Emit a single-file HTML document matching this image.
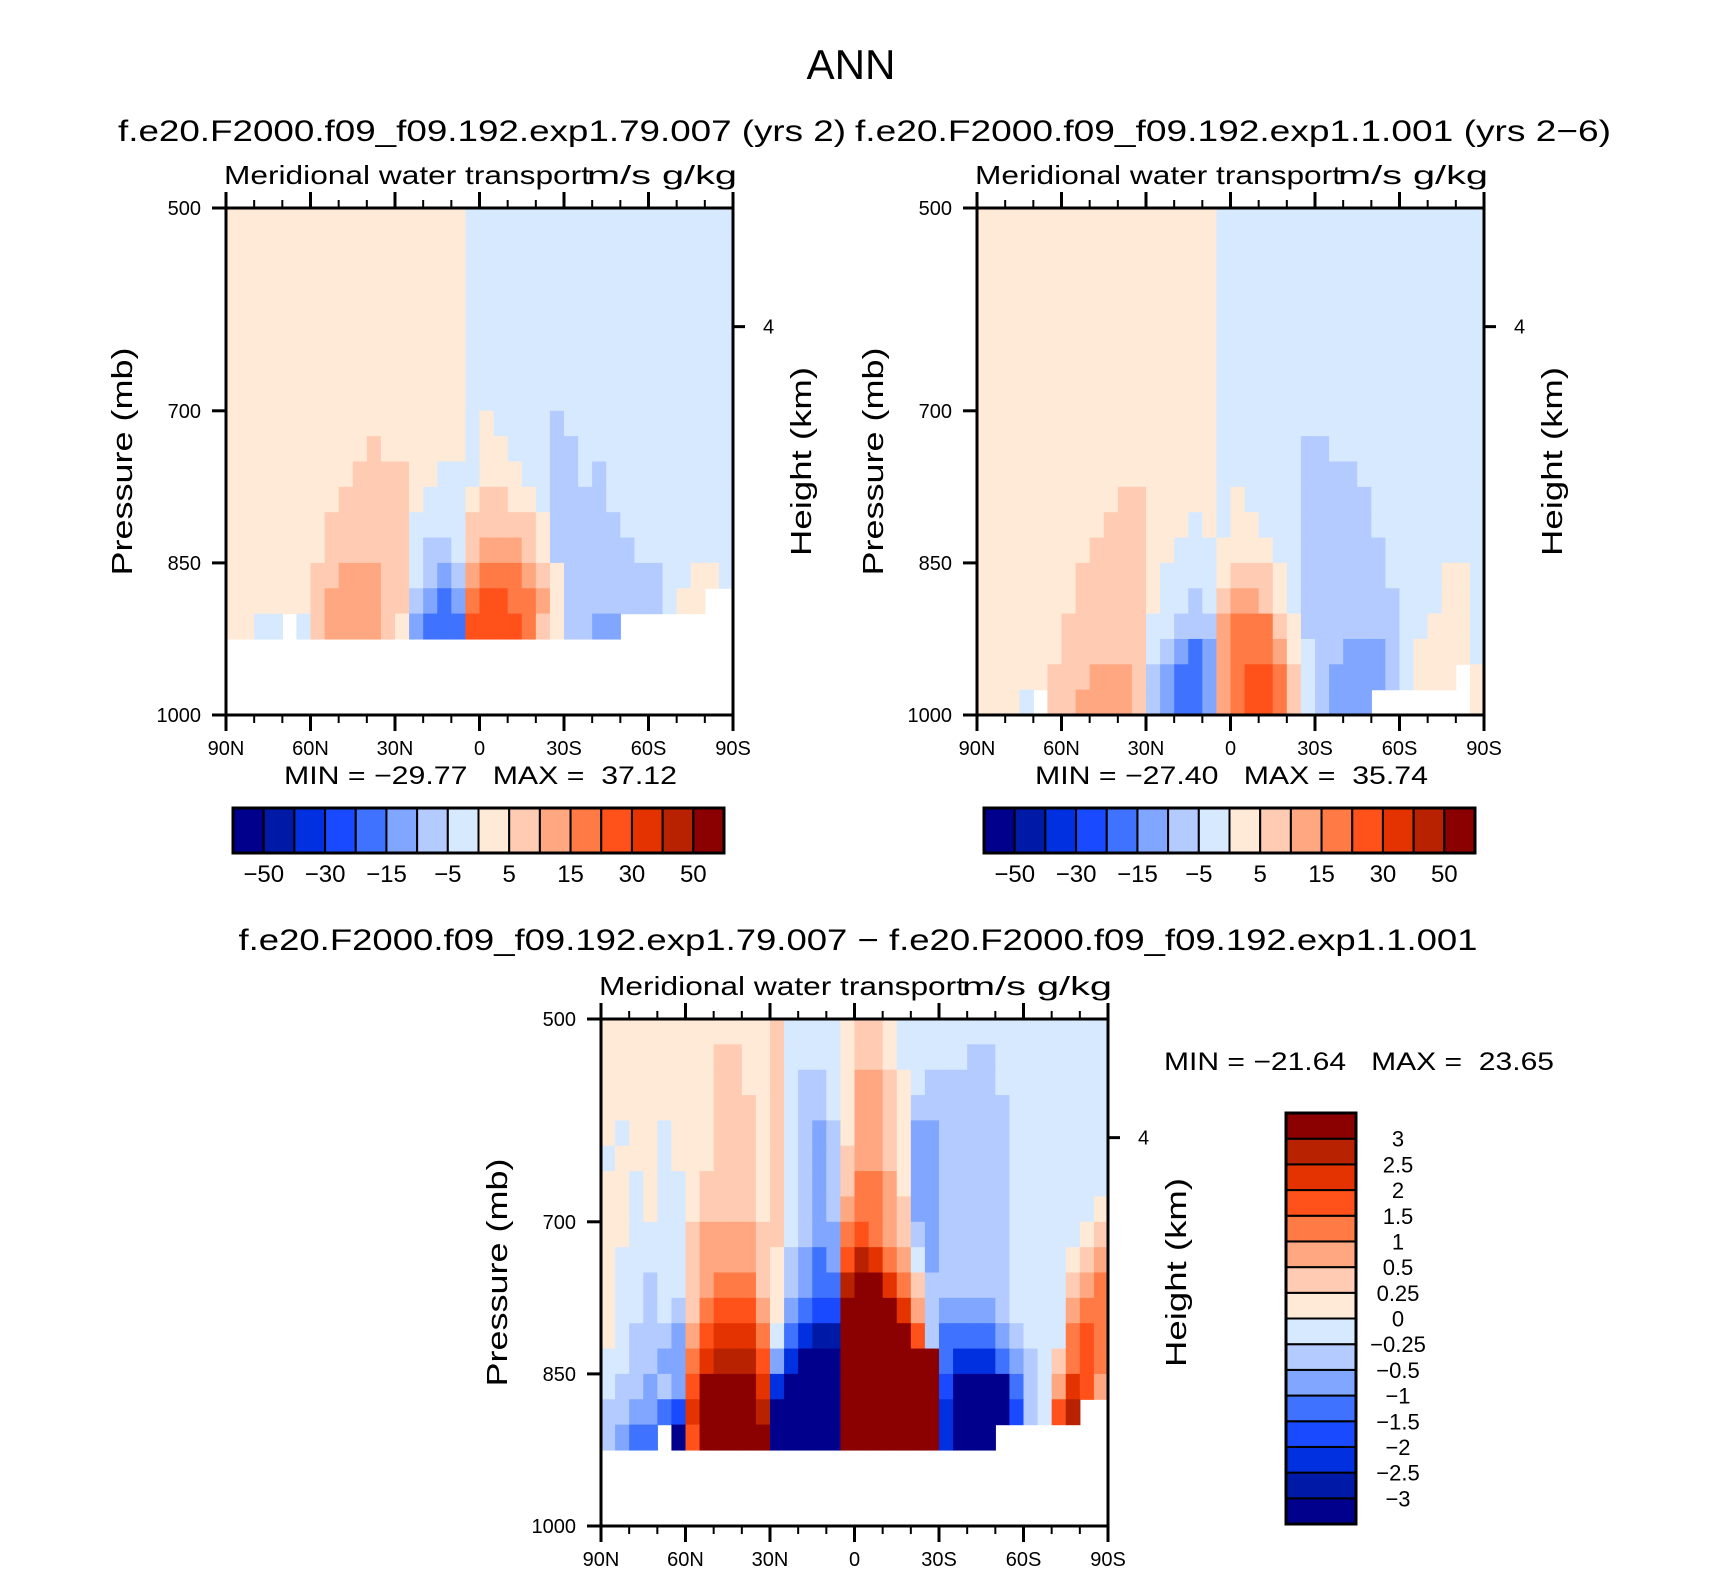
<!DOCTYPE html>
<html><head><meta charset="utf-8"><style>
html,body{margin:0;padding:0;background:#fff}
svg{display:block}
text{font-family:"Liberation Sans",sans-serif;fill:#000;white-space:pre}
</style></head><body>
<svg id="fig" xmlns="http://www.w3.org/2000/svg" width="1710" height="1574" viewBox="0 0 1710 1574">
<rect width="1710" height="1574" fill="#fff"/>
<text x="851" y="79" font-size="42" text-anchor="middle" textLength="89" lengthAdjust="spacingAndGlyphs">ANN</text>
<text x="482" y="141" font-size="30" text-anchor="middle" textLength="728" lengthAdjust="spacingAndGlyphs">f.e20.F2000.f09_f09.192.exp1.79.007 (yrs 2)</text>
<text x="1233" y="141" font-size="30" text-anchor="middle" textLength="756" lengthAdjust="spacingAndGlyphs">f.e20.F2000.f09_f09.192.exp1.1.001 (yrs 2−6)</text>
<text x="858" y="950" font-size="30" text-anchor="middle" textLength="1239" lengthAdjust="spacingAndGlyphs">f.e20.F2000.f09_f09.192.exp1.79.007 − f.e20.F2000.f09_f09.192.exp1.1.001</text>
<g id="plots"></g>
</svg>
<script>
const lats = [87.5,82.5,77.5,72.5,67.5,62.5,57.5,52.5,47.5,42.5,37.5,32.5,27.5,22.5,17.5,12.5,7.5,2.5,-2.5,-7.5,-12.5,-17.5,-22.5,-27.5,-32.5,-37.5,-42.5,-47.5,-52.5,-57.5,-62.5,-67.5,-72.5,-77.5,-82.5,-87.5];
const pressures = [512.5,537.5,562.5,587.5,612.5,637.5,662.5,687.5,712.5,737.5,762.5,787.5,812.5,837.5,862.5,887.5,912.5,937.5,962.5,987.5];
const xTickLabels = ["90N","60N","30N","0","30S","60S","90S"];
const xTickLats = [90,60,30,0,-30,-60,-90];
const yTickLabels = ["500","700","850","1000"];
const yTickValues = [500,700,850,1000];
const topLevels = [-50,-40,-30,-20,-15,-10,-5,0,5,10,15,20,30,40,50];
const topLevelLabels = ["−50","−30","−15","−5","5","15","30","50"];
const diffLevels = [-3,-2.5,-2,-1.5,-1,-0.5,-0.25,0,0.25,0.5,1,1.5,2,2.5,3];
const diffLevelLabels = ["−3","−2.5","−2","−1.5","−1","−0.5","−0.25","0","0.25","0.5","1","1.5","2","2.5","3"];
const palette = ["#00008c","#001aa8","#0030e0","#1a4aff","#3f73ff","#80a6ff","#b3cbff","#d7e9ff","#ffead7","#ffcbb3","#ffa780","#ff7a45","#ff5119","#e53300","#b82200","#8b0000"];
const n = null;
const panel1Rows = [
[2,2,2,2,2,2,2,2,2,2,2,2,2,2,2,2,2,-2,-2,-2,-2,-2,-2,-2,-2,-2,-2,-2,-2,-2,-2,-2,-2,-2,-2,-2],
[2,2,2,2,2,2,2,2,2,2,2,2,2,2,2,2,2,-2,-2,-2,-2,-2,-2,-2,-2,-2,-2,-2,-2,-2,-2,-2,-2,-2,-2,-2],
[2,2,2,2,2,2,2,2,2,2,2,2,2,2,2,2,2,-2,-2,-2,-2,-2,-2,-2,-2,-2,-2,-2,-2,-2,-2,-2,-2,-2,-2,-2],
[2,2,2,2,2,2,2,2,2,2,2,2,2,2,2,2,2,-2,-2,-2,-2,-2,-2,-2,-2,-2,-2,-2,-2,-2,-2,-2,-2,-2,-2,-2],
[2,2,2,2,2,2,2,2,2,2,2,2,2,2,2,2,2,-2,-2,-2,-2,-2,-2,-2,-2,-2,-2,-2,-2,-2,-2,-2,-2,-2,-2,-2],
[2,2,2,2,2,2,2,2,2,2,2,2,2,2,2,2,2,-2,-2,-2,-2,-2,-2,-2,-2,-2,-2,-2,-2,-2,-2,-2,-2,-2,-2,-2],
[2,2,2,2,2,2,2,2,2,2,2,2,2,2,2,2,2,-2,-2,-2,-2,-2,-2,-2,-2,-2,-2,-2,-2,-2,-2,-2,-2,-2,-2,-2],
[2,2,2,2,2,2,2,2,2,2,2,2,2,2,2,2,2,-2,-2,-2,-2,-2,-2,-2,-2,-2,-2,-2,-2,-2,-2,-2,-2,-2,-2,-2],
[2,2,2,2,2,2,2,2,2,2,2,2,2,2,2,2,2,-2,2,-2,-2,-2,-2,-7,-2,-2,-2,-2,-2,-2,-2,-2,-2,-2,-2,-2],
[2,2,2,2,2,2,2,2,2,2,7,2,2,2,2,2,2,-2,2,2,-2,-2,-2,-7,-7,-2,-2,-2,-2,-2,-2,-2,-2,-2,-2,-2],
[2,2,2,2,2,2,2,2,2,7,7,7,7,2,2,-2,-2,-2,2,2,2,-2,-2,-7,-7,-2,-7,-2,-2,-2,-2,-2,-2,-2,-2,-2],
[2,2,2,2,2,2,2,2,7,7,7,7,7,2,-2,-2,-2,2,7,7,2,2,-2,-7,-7,-7,-7,-2,-2,-2,-2,-2,-2,-2,-2,-2],
[2,2,2,2,2,2,2,7,7,7,7,7,7,-2,-2,-2,-2,7,7,7,7,7,2,-7,-7,-7,-7,-7,-2,-2,-2,-2,-2,-2,-2,-2],
[2,2,2,2,2,2,2,7,7,7,7,7,7,-2,-7,-7,-2,7,12,12,12,7,2,-7,-7,-7,-7,-7,-7,-2,-2,-2,-2,-2,-2,-2],
[2,2,2,2,2,2,7,7,12,12,12,7,7,-2,-7,-12,-7,12,17,17,17,12,7,2,-7,-7,-7,-7,-7,-7,-7,-2,-2,2,2,-2],
[2,2,2,2,2,2,7,12,12,12,12,7,7,-7,-12,-17,-12,17,25,25,17,17,12,2,-7,-7,-7,-7,-7,-7,-7,-2,2,2,n,n],
[2,2,-2,-2,n,-2,7,12,12,12,12,7,2,-12,-17,-17,-17,25,25,25,25,17,7,2,-7,-7,-12,-12,n,n,n,n,n,n,n,n],
[n,n,n,n,n,n,n,n,n,n,n,n,n,n,n,n,n,n,n,n,n,n,n,n,n,n,n,n,n,n,n,n,n,n,n,n],
[n,n,n,n,n,n,n,n,n,n,n,n,n,n,n,n,n,n,n,n,n,n,n,n,n,n,n,n,n,n,n,n,n,n,n,n],
[n,n,n,n,n,n,n,n,n,n,n,n,n,n,n,n,n,n,n,n,n,n,n,n,n,n,n,n,n,n,n,n,n,n,n,n]
];
const panel2Rows = [
[2,2,2,2,2,2,2,2,2,2,2,2,2,2,2,2,2,-2,-2,-2,-2,-2,-2,-2,-2,-2,-2,-2,-2,-2,-2,-2,-2,-2,-2,-2],
[2,2,2,2,2,2,2,2,2,2,2,2,2,2,2,2,2,-2,-2,-2,-2,-2,-2,-2,-2,-2,-2,-2,-2,-2,-2,-2,-2,-2,-2,-2],
[2,2,2,2,2,2,2,2,2,2,2,2,2,2,2,2,2,-2,-2,-2,-2,-2,-2,-2,-2,-2,-2,-2,-2,-2,-2,-2,-2,-2,-2,-2],
[2,2,2,2,2,2,2,2,2,2,2,2,2,2,2,2,2,-2,-2,-2,-2,-2,-2,-2,-2,-2,-2,-2,-2,-2,-2,-2,-2,-2,-2,-2],
[2,2,2,2,2,2,2,2,2,2,2,2,2,2,2,2,2,-2,-2,-2,-2,-2,-2,-2,-2,-2,-2,-2,-2,-2,-2,-2,-2,-2,-2,-2],
[2,2,2,2,2,2,2,2,2,2,2,2,2,2,2,2,2,-2,-2,-2,-2,-2,-2,-2,-2,-2,-2,-2,-2,-2,-2,-2,-2,-2,-2,-2],
[2,2,2,2,2,2,2,2,2,2,2,2,2,2,2,2,2,-2,-2,-2,-2,-2,-2,-2,-2,-2,-2,-2,-2,-2,-2,-2,-2,-2,-2,-2],
[2,2,2,2,2,2,2,2,2,2,2,2,2,2,2,2,2,-2,-2,-2,-2,-2,-2,-2,-2,-2,-2,-2,-2,-2,-2,-2,-2,-2,-2,-2],
[2,2,2,2,2,2,2,2,2,2,2,2,2,2,2,2,2,-2,-2,-2,-2,-2,-2,-2,-2,-2,-2,-2,-2,-2,-2,-2,-2,-2,-2,-2],
[2,2,2,2,2,2,2,2,2,2,2,2,2,2,2,2,2,-2,-2,-2,-2,-2,-2,-7,-7,-2,-2,-2,-2,-2,-2,-2,-2,-2,-2,-2],
[2,2,2,2,2,2,2,2,2,2,2,2,2,2,2,2,2,-2,-2,-2,-2,-2,-2,-7,-7,-7,-7,-2,-2,-2,-2,-2,-2,-2,-2,-2],
[2,2,2,2,2,2,2,2,2,2,7,7,2,2,2,2,2,-2,2,-2,-2,-2,-2,-7,-7,-7,-7,-7,-2,-2,-2,-2,-2,-2,-2,-2],
[2,2,2,2,2,2,2,2,2,7,7,7,2,2,2,-2,2,-2,2,2,-2,-2,-2,-7,-7,-7,-7,-7,-2,-2,-2,-2,-2,-2,-2,-2],
[2,2,2,2,2,2,2,2,7,7,7,7,2,2,-2,-2,-2,2,2,2,2,-2,-2,-7,-7,-7,-7,-7,-7,-2,-2,-2,-2,-2,-2,-2],
[2,2,2,2,2,2,2,7,7,7,7,7,2,-2,-2,-2,-2,2,7,7,7,2,-2,-7,-7,-7,-7,-7,-7,-2,-2,-2,-2,2,2,-2],
[2,2,2,2,2,2,2,7,7,7,7,7,2,-2,-2,-7,-2,7,12,12,7,2,-2,-7,-7,-7,-7,-7,-7,-7,-2,-2,-2,2,2,-2],
[2,2,2,2,2,2,7,7,7,7,7,7,-2,-2,-7,-7,-7,12,17,17,17,7,2,-7,-7,-7,-7,-7,-7,-7,-2,-2,2,2,2,-2],
[2,2,2,2,2,2,7,7,7,7,7,7,-2,-7,-12,-17,-12,12,17,17,17,12,2,-2,-7,-7,-12,-12,-12,-7,-2,2,2,2,2,-2],
[2,2,2,2,2,7,7,7,12,12,12,7,-7,-12,-17,-17,-12,12,17,25,25,17,7,-2,-7,-12,-12,-12,-12,-7,-2,2,2,2,n,2],
[2,2,2,-2,n,7,7,12,12,12,12,7,-7,-12,-17,-17,-12,12,17,25,25,17,7,-2,-7,-12,-12,-12,n,n,n,n,n,n,n,2]
];
const diffRows = [
[0.1,0.1,0.1,0.1,0.1,0.1,0.1,0.1,0.1,0.1,0.1,0.1,0.4,-0.1,-0.1,-0.1,-0.1,0.1,0.4,0.4,0.1,-0.1,-0.1,-0.1,-0.1,-0.1,-0.1,-0.1,-0.1,-0.1,-0.1,-0.1,-0.1,-0.1,-0.1,-0.1],
[0.1,0.1,0.1,0.1,0.1,0.1,0.1,0.1,0.4,0.4,0.1,0.1,0.4,-0.1,-0.1,-0.1,-0.1,0.1,0.4,0.4,0.1,-0.1,-0.1,-0.1,-0.1,-0.1,-0.4,-0.4,-0.1,-0.1,-0.1,-0.1,-0.1,-0.1,-0.1,-0.1],
[0.1,0.1,0.1,0.1,0.1,0.1,0.1,0.1,0.4,0.4,0.1,0.1,0.4,-0.1,-0.4,-0.4,-0.1,0.1,0.7,0.7,0.4,0.1,-0.1,-0.4,-0.4,-0.4,-0.4,-0.4,-0.1,-0.1,-0.1,-0.1,-0.1,-0.1,-0.1,-0.1],
[0.1,0.1,0.1,0.1,0.1,0.1,0.1,0.1,0.4,0.4,0.4,0.1,0.4,-0.1,-0.4,-0.4,-0.1,0.1,0.7,0.7,0.4,0.1,-0.4,-0.4,-0.4,-0.4,-0.4,-0.4,-0.4,-0.1,-0.1,-0.1,-0.1,-0.1,-0.1,-0.1],
[0.1,-0.1,0.1,0.1,-0.1,0.1,0.1,0.1,0.4,0.4,0.4,0.1,0.4,-0.1,-0.4,-0.7,-0.4,0.1,0.7,0.7,0.4,0.1,-0.7,-0.7,-0.4,-0.4,-0.4,-0.4,-0.4,-0.1,-0.1,-0.1,-0.1,-0.1,-0.1,-0.1],
[-0.1,0.1,0.1,0.1,-0.1,0.1,0.1,0.1,0.4,0.4,0.4,0.1,0.4,-0.1,-0.4,-0.7,-0.4,0.4,0.7,0.7,0.4,0.1,-0.7,-0.7,-0.4,-0.4,-0.4,-0.4,-0.4,-0.1,-0.1,-0.1,-0.1,-0.1,-0.1,-0.1],
[0.1,0.1,-0.1,0.1,-0.1,-0.1,0.1,0.4,0.4,0.4,0.4,0.1,0.4,-0.1,-0.4,-0.7,-0.4,0.4,1.2,1.2,0.7,0.1,-0.7,-0.7,-0.4,-0.4,-0.4,-0.4,-0.4,-0.1,-0.1,-0.1,-0.1,-0.1,-0.1,-0.1],
[0.1,0.1,-0.1,0.1,-0.1,-0.1,0.1,0.4,0.4,0.4,0.4,0.1,0.4,-0.1,-0.4,-0.7,-0.4,0.7,1.2,1.2,0.7,0.4,-0.7,-0.7,-0.4,-0.4,-0.4,-0.4,-0.4,-0.1,-0.1,-0.1,-0.1,-0.1,-0.1,0.1],
[0.1,0.1,-0.1,-0.1,-0.1,-0.1,0.4,0.7,0.7,0.7,0.7,0.4,0.4,-0.1,-0.4,-0.7,-0.7,1.2,1.7,1.2,0.7,0.4,-0.4,-0.7,-0.4,-0.4,-0.4,-0.4,-0.4,-0.1,-0.1,-0.1,-0.1,-0.1,0.1,0.4],
[0.1,-0.1,-0.1,-0.1,-0.1,-0.1,0.4,0.7,0.7,0.7,0.7,0.4,0.1,-0.4,-0.7,-1.2,-0.7,1.7,2.7,2.2,1.2,0.7,-0.1,-0.7,-0.4,-0.4,-0.4,-0.4,-0.4,-0.1,-0.1,-0.1,-0.1,0.1,0.4,0.7],
[0.1,-0.1,-0.1,-0.4,-0.1,-0.1,0.4,0.7,1.2,1.2,1.2,0.4,0.1,-0.4,-0.7,-1.2,-1.2,2.7,3.5,3.5,2.2,1.2,0.4,-0.4,-0.4,-0.4,-0.4,-0.4,-0.4,-0.1,-0.1,-0.1,-0.1,0.4,0.7,1.2],
[0.1,-0.1,-0.1,-0.4,-0.1,-0.4,0.4,1.2,1.7,1.7,1.7,0.7,0.1,-0.7,-1.2,-1.7,-1.7,3.5,3.5,3.5,3.5,2.2,0.7,-0.4,-0.7,-0.7,-0.7,-0.7,-0.4,-0.1,-0.1,-0.1,-0.1,0.7,1.2,1.2],
[0.1,-0.1,-0.4,-0.4,-0.4,-0.7,0.7,1.7,2.2,2.2,2.2,1.2,-0.1,-1.2,-2.2,-2.7,-2.7,3.5,3.5,3.5,3.5,3.5,1.7,-0.4,-1.2,-1.2,-1.2,-1.2,-0.7,-0.4,-0.1,-0.1,-0.1,1.2,1.7,1.2],
[-0.1,-0.1,-0.4,-0.4,-0.7,-0.7,1.2,2.2,2.7,2.7,2.7,1.7,-0.7,-2.2,-3.5,-3.5,-3.5,3.5,3.5,3.5,3.5,3.5,3.5,3.5,-1.2,-2.2,-2.2,-2.2,-1.2,-0.7,-0.4,-0.1,0.4,1.2,1.7,1.2],
[-0.1,-0.4,-0.4,-0.7,-0.4,-0.7,1.7,3.5,3.5,3.5,3.5,2.2,-2.2,-3.5,-3.5,-3.5,-3.5,3.5,3.5,3.5,3.5,3.5,3.5,3.5,-1.7,-3.5,-3.5,-3.5,-3.5,-1.2,-0.4,-0.1,0.7,2.2,1.7,0.7],
[-0.4,-0.4,-0.7,-0.7,-1.2,-1.7,2.2,3.5,3.5,3.5,3.5,2.7,-3.5,-3.5,-3.5,-3.5,-3.5,3.5,3.5,3.5,3.5,3.5,3.5,3.5,-2.2,-3.5,-3.5,-3.5,-3.5,-1.7,-0.4,-0.1,1.7,2.7,n,n],
[-0.4,-0.7,-1.2,-1.2,n,-3.5,1.7,3.5,3.5,3.5,3.5,3.5,-3.5,-3.5,-3.5,-3.5,-3.5,3.5,3.5,3.5,3.5,3.5,3.5,3.5,-2.2,-3.5,-3.5,-3.5,n,n,n,n,n,n,n,n],
[n,n,n,n,n,n,n,n,n,n,n,n,n,n,n,n,n,n,n,n,n,n,n,n,n,n,n,n,n,n,n,n,n,n,n,n],
[n,n,n,n,n,n,n,n,n,n,n,n,n,n,n,n,n,n,n,n,n,n,n,n,n,n,n,n,n,n,n,n,n,n,n,n],
[n,n,n,n,n,n,n,n,n,n,n,n,n,n,n,n,n,n,n,n,n,n,n,n,n,n,n,n,n,n,n,n,n,n,n,n]
];
const minMax1 = ["−29.77","37.12"];
const minMax2 = ["−27.40","35.74"];
const minMaxDiff = ["−21.64","23.65"];

const NS = "http://www.w3.org/2000/svg";
const root = document.getElementById('plots');
function mk(tag, attrs, parent){
  const e = document.createElementNS(NS, tag);
  for (const k in attrs) e.setAttribute(k, attrs[k]);
  (parent||root).appendChild(e);
  return e;
}
function colorFor(v, levels){
  let i = 0;
  while (i < levels.length && v >= levels[i]) i++;
  return palette[i];
}
const SIZE = 507;
function drawPanel(key, x0, y0, rows, levels){
  const g = mk('g', {});
  
  
  const xS = lat => x0 + (90 - lat) / 180 * SIZE;
  const yS = p => y0 + (p - 500) / 500 * SIZE;
  const cells = mk('g', {}, g);
  
  
  rows.forEach((row, r) => {
    row.forEach((v, c) => {
      if (v === null) return;
      const xa = xS(lats[c] + 2.5), xb = xS(lats[c] - 2.5);
      const ya = yS(pressures[r] - 12.5), yb = yS(pressures[r] + 12.5);
      const rc = mk('rect', {x: xa.toFixed(2), y: ya.toFixed(2), width: (xb - xa + 0.6).toFixed(2), height: (yb - ya + 0.6).toFixed(2), fill: colorFor(v, levels)}, cells);
      
      
    });
  });
  const fr = mk('rect', {x: x0, y: y0, width: SIZE, height: SIZE, fill: 'none', stroke: '#000', 'stroke-width': 3}, g);
  
  
  for (let lat = 90; lat >= -90; lat -= 10) {
    const major = lat % 30 === 0;
    const len = major ? 16 : 8;
    const x = xS(lat);
    mk('line', {x1: x, x2: x, y1: y0 + SIZE, y2: y0 + SIZE + len, stroke: '#000', 'stroke-width': major ? 3 : 2}, g);
    mk('line', {x1: x, x2: x, y1: y0, y2: y0 - len, stroke: '#000', 'stroke-width': major ? 3 : 2}, g);
  }
  xTickLats.forEach((lat, i) => {
    const t = mk('text', {x: xS(lat), y: y0 + SIZE + 40, 'font-size': 20, 'text-anchor': 'middle'}, g);
    t.textContent = xTickLabels[i];
    
    
  });
  yTickValues.forEach((p, i) => {
    const y = yS(p);
    mk('line', {x1: x0 - 14, x2: x0, y1: y, y2: y, stroke: '#000', 'stroke-width': 3}, g);
    const t = mk('text', {x: x0 - 25, y: y + 7, 'font-size': 20, 'text-anchor': 'end'}, g);
    t.textContent = yTickLabels[i];
    
    
  });
  const yh = yS(617);
  mk('line', {x1: x0 + SIZE, x2: x0 + SIZE + 12, y1: yh, y2: yh, stroke: '#000', 'stroke-width': 3}, g);
  const th = mk('text', {x: x0 + SIZE + 30, y: yh + 7, 'font-size': 20}, g);
  th.textContent = '4';
  
  
  const yc = y0 + SIZE / 2;
  const pt = mk('text', {x: 0, y: 0, 'font-size': 29, 'text-anchor': 'middle', textLength: 228, lengthAdjust: 'spacingAndGlyphs', transform: `translate(${x0 - 94},${yc}) rotate(-90)`}, g);
  pt.textContent = 'Pressure (mb)';
  
  
  const ht = mk('text', {x: 0, y: 0, 'font-size': 29, 'text-anchor': 'middle', textLength: 189, lengthAdjust: 'spacingAndGlyphs', transform: `translate(${x0 + SIZE + 78},${yc}) rotate(-90)`}, g);
  ht.textContent = 'Height (km)';
  
  
  const lt = mk('text', {x: x0 - 2, y: y0 - 24, 'font-size': 26, textLength: 366, lengthAdjust: 'spacingAndGlyphs'}, g);
  lt.textContent = 'Meridional water transport';
  
  
  const ut = mk('text', {x: x0 + 361, y: y0 - 24, 'font-size': 26, textLength: 150, lengthAdjust: 'spacingAndGlyphs'}, g);
  ut.textContent = 'm/s g/kg';
  
  
}
function drawHBar(key, x0, y0, mm){
  const g = mk('g', {});
  
  
  const w = 491 / 16;
  palette.forEach((c, i) => {
    const r = mk('rect', {x: x0 + i * w, y: y0, width: w, height: 45, fill: c, stroke: '#000', 'stroke-width': 2}, g);
    
    
  });
  mk('rect', {x: x0, y: y0, width: 491, height: 45, fill: 'none', stroke: '#000', 'stroke-width': 3}, g);
  topLevelLabels.forEach((s, i) => {
    const t = mk('text', {x: x0 + (1 + 2 * i) * w, y: y0 + 74, 'font-size': 24, 'text-anchor': 'middle'}, g);
    t.textContent = s;
    
    
  });
  const m = mk('text', {x: x0 + 51, y: y0 - 24, 'font-size': 25, textLength: 393, lengthAdjust: 'spacingAndGlyphs'}, g);
  m.textContent = 'MIN = ' + mm[0] + '   MAX =  ' + mm[1];
  
  
}
drawPanel('panel1', 226, 208, panel1Rows, topLevels);
drawPanel('panel2', 977, 208, panel2Rows, topLevels);
drawPanel('diff', 601, 1019, diffRows, diffLevels);
drawHBar('panel1', 233, 808, minMax1);
drawHBar('panel2', 984, 808, minMax2);
(function(){
  const g = mk('g', {});
  
  
  const x0 = 1286, y0 = 1113, h = 411 / 16, w = 70;
  palette.forEach((c, i) => {
    const r = mk('rect', {x: x0, y: y0 + (15 - i) * h, width: w, height: h, fill: c, stroke: '#000', 'stroke-width': 2}, g);
    
    
  });
  mk('rect', {x: x0, y: y0, width: w, height: 411, fill: 'none', stroke: '#000', 'stroke-width': 3}, g);
  diffLevelLabels.forEach((s, i) => {
    const t = mk('text', {x: 1398, y: y0 + (15 - i) * h + 8, 'font-size': 22, 'text-anchor': 'middle'}, g);
    t.textContent = s;
    
    
  });
  const m = mk('text', {x: 1164, y: 1070, 'font-size': 25, textLength: 390, lengthAdjust: 'spacingAndGlyphs'}, g);
  m.textContent = 'MIN = ' + minMaxDiff[0] + '   MAX =  ' + minMaxDiff[1];
  
  
})();
</script>
</body></html>
